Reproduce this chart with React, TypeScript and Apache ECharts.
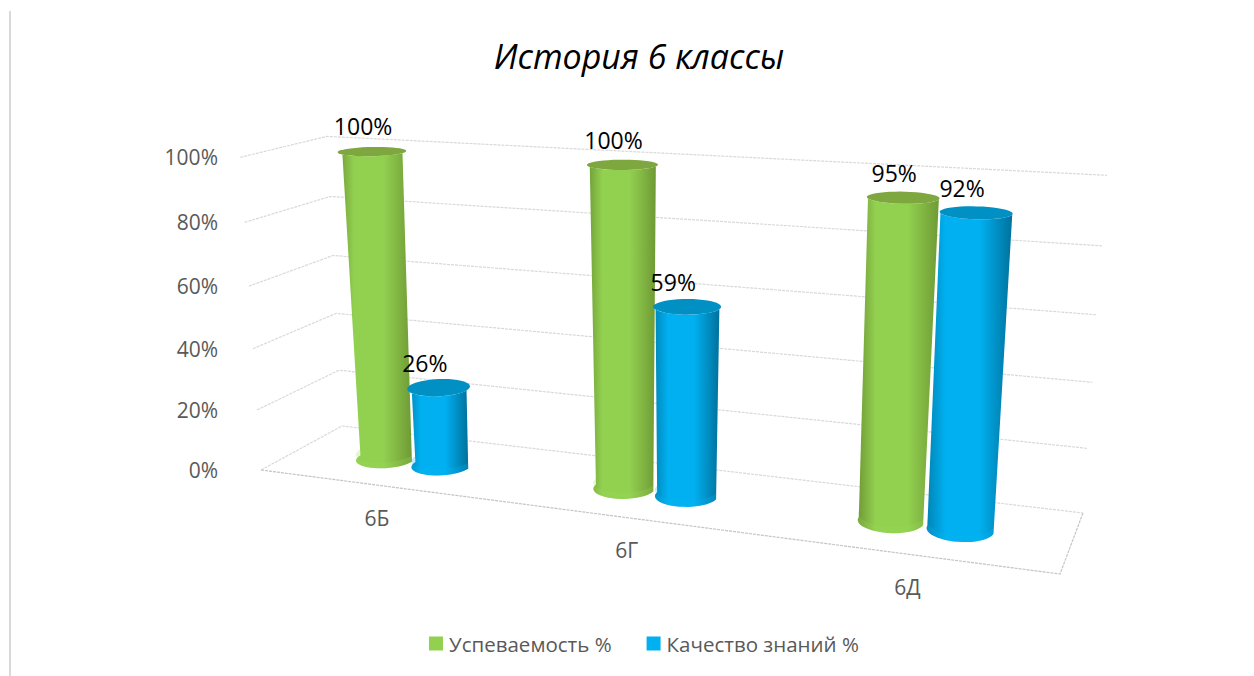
import React, { useEffect, useRef } from "react";
import * as echarts from "echarts";

const categories = ["6Б", "6Г", "6Д"];
const successValues = [100, 100, 95];
const qualityValues = [26, 59, 92];
const tickValues = [0, 20, 40, 60, 80, 100];
const seriesNames = ["Успеваемость %", "Качество знаний %"];
const titleText = "История 6 классы";

type P = [number, number];
const GRID = { left: 200, top: 100, width: 900, height: 400 };
const W = 1254;
const H = 676;

// Perspective box: floor corners plus the vanishing point of the vertical edges.
function makeProjection(q: P[], vp: P, rise: number) {
  const [[x0, y0], [x1, y1], [x2, y2], [x3, y3]] = q;
  const dx1 = x1 - x2, dx2 = x3 - x2, sx = x0 - x1 + x2 - x3;
  const dy1 = y1 - y2, dy2 = y3 - y2, sy = y0 - y1 + y2 - y3;
  const den = dx1 * dy2 - dx2 * dy1;
  const g = (sx * dy2 - dx2 * sy) / den;
  const h = (dx1 * sy - sx * dy1) / den;
  const a = x1 - x0 + g * x1, b = x3 - x0 + h * x3;
  const d = y1 - y0 + g * y1, e = y3 - y0 + h * y3;
  return (u: number, w: number, v: number): P => {
    const k = g * u + h * w + 1 + rise * v;
    return [
      (a * u + b * w + x0 + rise * v * vp[0]) / k,
      (d * u + e * w + y0 + rise * v * vp[1]) / k,
    ];
  };
}

const warp = makeProjection([[261, 470], [1060, 574], [1083, 513], [342, 426]], [660, 6500], -0.0493);

function normalised(api: any, cat: number, value: number) {
  const c = api.coord([cat, value]);
  return { u: (c[0] - GRID.left) / GRID.width, v: 1 - (c[1] - GRID.top) / GRID.height };
}

const MID_W = 0.48;
const R_U = 0.038;
const R_W = 0.2;
const OFFSET_GREEN = -0.0395;
const OFFSET_BLUE = 0.0415;

function arc(u: number, w: number, v: number, from: number, to: number, n = 24): P[] {
  const pts: P[] = [];
  const flare = 1 + v * 0.12 * (1 - u * u);
  for (let i = 0; i <= n; i++) {
    const t = from + ((to - from) * i) / n;
    pts.push(warp(u + R_U * flare * Math.cos(t), w + R_W * Math.sin(t), v));
  }
  return pts;
}

function grad(edgeL: string, mid: string, edgeR: string) {
  return new echarts.graphic.LinearGradient(0, 0, 1, 0, [
    { offset: 0, color: edgeL },
    { offset: 0.22, color: mid },
    { offset: 0.62, color: mid },
    { offset: 1, color: edgeR },
  ]);
}

function cylinderRender(
  offset: number,
  labelDx: number,
  colors: { l: string; m: string; r: string; top: string; rim: string },
) {
  return (_: any, api: any) => {
    const cat = api.value(0);
    const val = api.value(1);
    const { u, v } = normalised(api, cat, val);
    const uc = u + offset;
    const frontBottom = arc(uc, MID_W, 0, Math.PI, 2 * Math.PI);
    const frontTop = arc(uc, MID_W, v, 2 * Math.PI, Math.PI);
    const rimTop = arc(uc, MID_W, 0.02, 2 * Math.PI, Math.PI);
    const topRing = arc(uc, MID_W, v, 0, 2 * Math.PI, 40);
    const centre = warp(uc, MID_W, v);
    return {
      type: "group",
      children: [
        {
          type: "polygon",
          shape: { points: [...frontBottom, ...frontTop] },
          style: { fill: grad(colors.l, colors.m, colors.r) },
        },
        {
          type: "polygon",
          shape: { points: [...frontBottom, ...rimTop] },
          style: { fill: colors.rim, opacity: 0.25 },
        },
        { type: "polygon", shape: { points: topRing }, style: { fill: colors.top } },
        {
          type: "text",
          z2: 50,
          style: {
            text: `${val}%`,
            x: centre[0] + labelDx,
            y: centre[1] - 25,
            align: "center",
            verticalAlign: "middle",
            font: '23px "Open Sans"',
            fill: "#000000",
          },
        },
      ],
    };
  };
}

function gridRender(_: any, api: any) {
  const val = api.value(0);
  const { v } = normalised(api, 0, val);
  const a = warp(0, 0, v), b = warp(0, 1, v), c = warp(1, 1, v);
  const style = { stroke: "#d9d9d9", lineWidth: 1.2, fill: "none", lineDash: [3, 1] };
  const children: any[] = [
    { type: "polyline", shape: { points: [a, b, c] }, style },
    {
      type: "text",
      style: {
        text: `${val}%`,
        x: 218,
        y: a[1],
        align: "right",
        verticalAlign: "middle",
        font: '21px "Open Sans"',
        fill: "#595959",
      },
    },
  ];
  if (val === 0) {
    const d = warp(1, 0, 0);
    children.push({
      type: "polyline",
      shape: { points: [a, d, c] },
      style: { ...style, stroke: "#c4c4c4" },
    });
  }
  return { type: "group", children };
}

function catLabelRender(_: any, api: any) {
  const i = api.value(0);
  const { u } = normalised(api, i, 0);
  const p = warp(u, 0, 0);
  return {
    type: "text",
    style: {
      text: categories[i],
      x: p[0] + 1,
      y: p[1] + 33,
      align: "center",
      verticalAlign: "middle",
      font: '21px "Open Sans"',
      fill: "#595959",
    },
  };
}

export default function App() {
  const ref = useRef<HTMLDivElement>(null);
  useEffect(() => {
    const chart = echarts.init(ref.current!, undefined, { renderer: "svg" });
    chart.setOption({
      animation: false,
      backgroundColor: "#ffffff",
      title: {
        text: titleText,
        left: 634,
        top: 34,
        textAlign: "center",
        textStyle: {
          fontFamily: "Open Sans",
          fontStyle: "italic",
          fontWeight: "normal",
          fontSize: 34,
          color: "#000000",
        },
      },
      legend: {
        data: seriesNames,
        left: 424,
        top: 628,
        itemWidth: 14,
        itemHeight: 14,
        itemGap: 35,
        icon: "rect",
        textStyle: { fontFamily: "Open Sans", fontSize: 20.5, color: "#595959", padding: [0, 0, 0, 1] },
      },
      grid: GRID,
      xAxis: { type: "category", data: categories, show: false },
      yAxis: { type: "value", min: 0, max: 100, interval: 20, show: false },
      graphic: [
        {
          type: "line",
          shape: { x1: 10, y1: 11, x2: 10, y2: 676 },
          style: { stroke: "#d9d9d9", lineWidth: 2 },
          silent: true,
        },
      ],
      series: [
        {
          type: "custom",
          name: "grid",
          renderItem: gridRender,
          data: tickValues.map((t) => [t]),
          encode: { y: 0 },
          z: 1,
          silent: true,
        },
        {
          type: "custom",
          name: "cat",
          renderItem: catLabelRender,
          data: categories.map((_, i) => [i]),
          encode: { x: 0 },
          z: 1,
          silent: true,
        },
        {
          type: "custom",
          name: seriesNames[0],
          itemStyle: { color: "#92D050" },
          renderItem: cylinderRender(OFFSET_GREEN, -9, { l: "#6f9a35", m: "#92D050", r: "#6f9a35", top: "#7ea83f", rim: "#9ad656" }),
          data: successValues.map((v, i) => [i, v]),
          encode: { x: 0, y: 1 },
          z: 3,
        },
        {
          type: "custom",
          name: seriesNames[1],
          itemStyle: { color: "#00B0F0" },
          renderItem: cylinderRender(OFFSET_BLUE, -14, { l: "#0084b4", m: "#00B0F0", r: "#00719c", top: "#0090c4", rim: "#0cb4f2" }),
          data: qualityValues.map((v, i) => [i, v]),
          encode: { x: 0, y: 1 },
          z: 4,
        },
      ],
    });
    return () => chart.dispose();
  }, []);
  return <div ref={ref} style={{ position: "absolute", left: 0, top: 0, width: W, height: H }} />;
}
